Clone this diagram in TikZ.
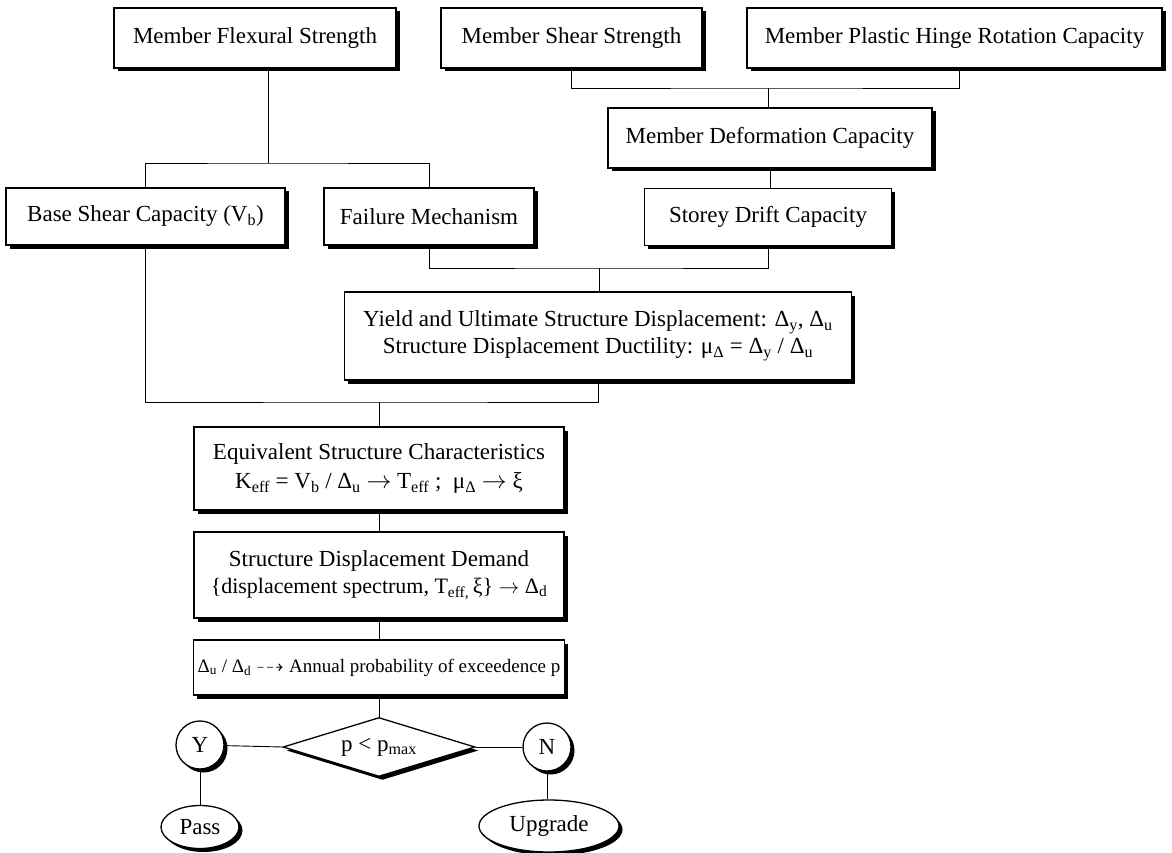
\documentclass[tikz,border=0pt]{standalone}
\usepackage{fontspec}
\setmainfont{Liberation Serif}
\usepackage{amssymb}
\usetikzlibrary{shapes.geometric,shadows}
\newcommand\sbs[1]{\textsubscript{#1}}
\tikzset{
  shad/.style={drop shadow={shadow xshift=3.5pt, shadow yshift=-3.5pt, fill=black, opacity=1}},
  box/.style={draw, line width=1.3pt, fill=white, align=center, inner sep=0pt,
    font=\fontsize{23}{27}\selectfont, shad},
  circ/.style={draw, circle, line width=1.3pt, fill=white, inner sep=0pt, minimum size=48pt,
    font=\fontsize{23}{27}\selectfont, shad},
  ell/.style={draw, ellipse, line width=1.3pt, fill=white, inner sep=0pt,
    font=\fontsize{23}{27}\selectfont, shad},
  conn/.style={line width=0.9pt},
}
\begin{document}
\begin{tikzpicture}[x=1pt, y=-1pt]
\useasboundingbox (0,0) rectangle (1172,853);
% top row
\node[box, minimum width=282pt, minimum height=60pt] (flex) at (255,38) {Member Flexural Strength};
\node[box, minimum width=261pt, minimum height=60pt] (shear) at (571.5,38) {Member Shear Strength};
\node[box, minimum width=415pt, minimum height=60pt] (plastic) at (954.5,38) {Member Plastic Hinge Rotation Capacity};
\node[box, minimum width=324pt, minimum height=60pt] (deform) at (770,138) {Member Deformation Capacity};
% third row
\node[box, minimum width=279pt, minimum height=57pt] (base) at (145.5,216.5) {Base Shear Capacity (V\sbs{b})};
\node[box, minimum width=210pt, minimum height=57pt] (failure) at (429,216.5) {Failure Mechanism};
\node[box, minimum width=247pt, minimum height=57pt] (storey) at (768,217) {Storey Drift Capacity};
% yield
\node[box, minimum width=507pt, minimum height=88pt] (yield) at (598,336)
  {Yield and Ultimate Structure Displacement: Δ\sbs{y}, Δ\sbs{u}\\
   Structure Displacement Ductility: μ\sbs{Δ} = Δ\sbs{y} / Δ\sbs{u}};
% lower column
\node[box, minimum width=370pt, minimum height=83pt] (equiv) at (379,468.5)
  {Equivalent Structure Characteristics\\[2pt]
   K\sbs{eff} = V\sbs{b} / Δ\sbs{u} $\rightarrow$ T\sbs{eff}\ ;\ \ μ\sbs{Δ} $\rightarrow$ ξ};
\node[box, minimum width=370pt, minimum height=86pt] (demand) at (379,575)
  {Structure Displacement Demand\\
   {\fontsize{22}{27}\selectfont\{displacement spectrum, T\sbs{eff,}\,ξ\} $\rightarrow$ Δ\sbs{d}}};
\node[box, minimum width=370pt, minimum height=55pt, inner xsep=4pt, font=\fontsize{19}{23}\selectfont] (annual) at (379,667.5)
  {Δ\sbs{u} / Δ\sbs{d} $\dashrightarrow$ Annual probability of exceedence p};
% decision
\node[draw, diamond, aspect=3.25, line width=1.3pt, fill=white, inner sep=0pt,
  minimum width=192pt, minimum height=59pt, font=\fontsize{23}{27}\selectfont, shad]
  (dia) at (379,747) {p < p\sbs{max}};
\node[circ] (Y) at (200,745) {Y};
\node[circ] (N) at (547,747) {N};
\node[ell, minimum width=78pt, minimum height=43pt] (pass) at (200,827) {Pass};
\node[ell, minimum width=140pt, minimum height=52pt] (upg) at (549,826) {Upgrade};
% junctions
\coordinate (j1) at (268,163);
\coordinate (j2) at (768,88);
\coordinate (j3) at (599,268);
\coordinate (j4) at (379,402);
% connectors
\draw[conn] (flex.south -| j1) -- (j1);
\draw[conn] (base.north) |- (j1) -| (failure.north);
\draw[conn] (shear.south) |- (j2) -| ([xshift=5pt]plastic.south);
\draw[conn] (j2) -- (j2 |- deform.north);
\draw[conn] (deform.south) -- (deform.south |- storey.north);
\draw[conn] (failure.south) |- (j3) -| (storey.south);
\draw[conn] (j3) -- (j3 |- yield.north);
\draw[conn] (base.south) |- (j4) -| (yield.south);
\draw[conn] (j4) -- (equiv.north);
\draw[conn] (equiv.south) -- (demand.north);
\draw[conn] (demand.south) -- (annual.north);
\draw[conn] (annual.south) -- (dia.north);
\draw[conn] (Y) -- (dia.west);
\draw[conn] (dia.east) -- (N);
\draw[conn] (Y.south) -- (Y.south |- pass.north);
\draw[conn] (N.south) -- (N.south |- upg.north);
\end{tikzpicture}
\end{document}
